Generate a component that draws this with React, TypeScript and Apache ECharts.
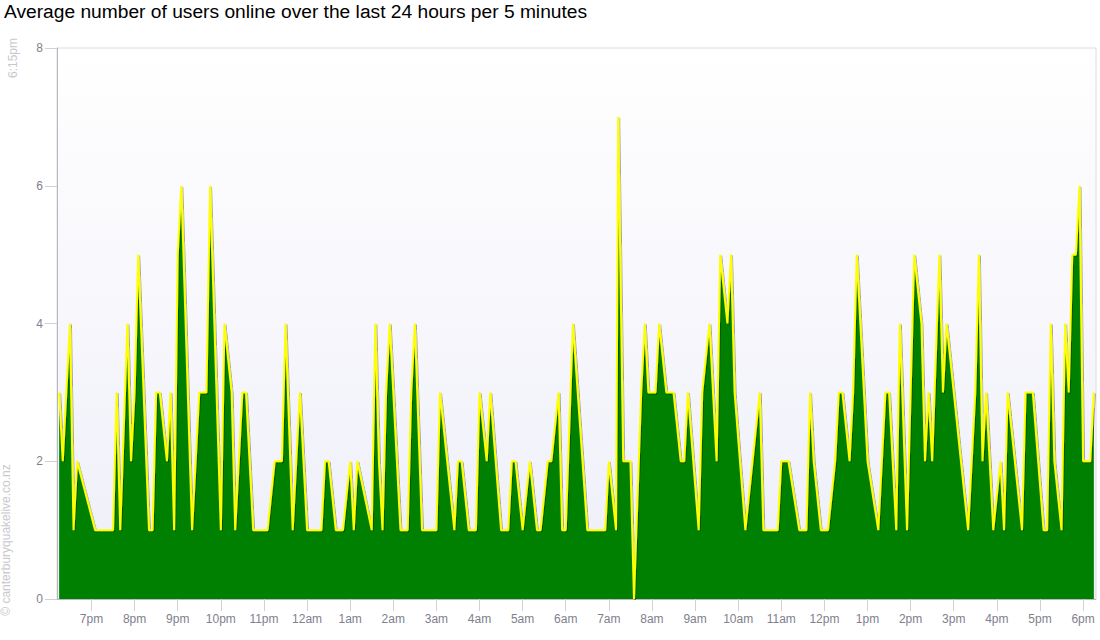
import React, { useEffect, useRef } from "react";
import * as echarts from "echarts";

// Minutes after 6:00pm (day one) of each sample
const times: number[] = [
  15, 20, 30, 35, 40, 65, 90, 95, 100, 110, 115, 120, 125, 140, 145, 150, 155, 165, 170, 175,
  180, 185, 200, 205, 210, 220, 225, 240, 245, 255, 260, 270, 275, 285, 305, 315, 325, 330, 340, 350,
  360, 380, 385, 390, 400, 410, 420, 425, 430, 450, 455, 460, 465, 470, 475, 490, 500, 505, 510, 520,
  540, 545, 565, 570, 575, 585, 595, 600, 610, 615, 630, 640, 645, 650, 660, 670, 680, 685, 695, 700,
  710, 715, 720, 730, 750, 775, 780, 790, 793, 800, 810, 815, 825, 830, 835, 845, 850, 860, 870, 880,
  885, 890, 905, 910, 920, 930, 935, 945, 950, 955, 970, 980, 990, 995, 1015, 1020, 1030, 1045, 1055, 1060,
  1065, 1075, 1085, 1095, 1100, 1105, 1115, 1120, 1125, 1135, 1140, 1155, 1160, 1165, 1170, 1180, 1185, 1195, 1200, 1205,
  1215, 1220, 1225, 1230, 1240, 1245, 1250, 1280, 1290, 1295, 1300, 1305, 1315, 1325, 1330, 1335, 1355, 1360, 1370, 1385,
  1390, 1395, 1400, 1410, 1415, 1420, 1425, 1430, 1435, 1440, 1450, 1455,
];

// Average users online at each sample
const users: number[] = [
  3, 2, 4, 1, 2, 1, 1, 3, 1, 4, 2, 3, 5, 1, 1, 3, 3, 2, 3, 1,
  5, 6, 1, 2, 3, 3, 6, 1, 4, 3, 1, 3, 3, 1, 1, 2, 2, 4, 1, 3,
  1, 1, 2, 2, 1, 1, 2, 1, 2, 1, 4, 2, 1, 3, 4, 1, 1, 3, 4, 1,
  1, 3, 1, 2, 2, 1, 1, 3, 2, 3, 1, 1, 2, 2, 1, 2, 1, 1, 2, 2,
  3, 1, 1, 4, 1, 1, 2, 1, 7, 2, 2, 0, 3, 4, 3, 3, 4, 3, 3, 2,
  2, 3, 1, 3, 4, 2, 5, 4, 5, 3, 1, 2, 3, 1, 1, 2, 2, 1, 1, 3,
  2, 1, 1, 2, 3, 3, 2, 3, 5, 3, 2, 1, 2, 3, 3, 1, 4, 1, 3, 5,
  4, 2, 3, 2, 5, 3, 4, 1, 3, 5, 2, 3, 1, 2, 1, 3, 1, 3, 3, 1,
  1, 4, 2, 1, 4, 3, 5, 5, 6, 2, 2, 3,
];

// Hourly tick positions (minutes after 6:00pm) and their labels
const tickMinutes: number[] = [
  60, 120, 180, 240, 300, 360, 420, 480, 540, 600, 660, 720,
  780, 840, 900, 960, 1020, 1080, 1140, 1200, 1260, 1320, 1380, 1440,
];
const tickLabels: string[] = [
  "7pm", "8pm", "9pm", "10pm", "11pm", "12am", "1am", "2am", "3am", "4am", "5am", "6am",
  "7am", "8am", "9am", "10am", "11am", "12pm", "1pm", "2pm", "3pm", "4pm", "5pm", "6pm",
];

const yTicks: number[] = [0, 2, 4, 6, 8];

const TITLE = "Average number of users online over the last 24 hours per 5 minutes";

export default function App() {
  const ref = useRef<HTMLDivElement>(null);

  useEffect(() => {
    if (!ref.current) return;
    const chart = echarts.init(ref.current, undefined, { renderer: "svg" });
    const data = times.map((t, i) => [t, users[i]]);
    const font = "'Liberation Sans', Arial, sans-serif";

    chart.setOption({
      animation: false,
      backgroundColor: "#ffffff",
      textStyle: { fontFamily: font },
      grid: {
        left: 57,
        right: 4,
        top: 48,
        bottom: 41,
        show: true,
        borderColor: "#dcdce4",
        borderWidth: 1,
        backgroundColor: {
          type: "linear",
          x: 0,
          y: 0,
          x2: 0,
          y2: 1,
          colorStops: [
            { offset: 0, color: "#ffffff" },
            { offset: 1, color: "#eeeef9" },
          ],
        },
      },
      xAxis: {
        type: "value",
        min: 12,
        max: 1458,
        axisLine: { show: true, lineStyle: { color: "#b8b8c0" } },
        axisTick: {
          show: true,
          length: 12,
          customValues: tickMinutes,
          lineStyle: { color: "#d0d0d8" },
        },
        axisLabel: {
          customValues: tickMinutes,
          color: "#80808e",
          fontSize: 12,
          fontFamily: font,
          margin: 14,
          formatter: (v: number) => {
            const idx = tickMinutes.indexOf(v);
            return idx >= 0 ? tickLabels[idx] : "";
          },
        },
        splitLine: { show: false },
      },
      yAxis: {
        type: "value",
        min: 0,
        max: 8,
        interval: 2,
        axisLine: { show: true, lineStyle: { color: "#b8b8c0" } },
        axisTick: { show: true, length: 12, lineStyle: { color: "#d0d0d8" } },
        axisLabel: {
          color: "#80808e",
          fontSize: 12,
          fontFamily: font,
          margin: 14,
          formatter: (v: number) => (yTicks.includes(v) ? String(v) : ""),
        },
        splitLine: { show: false },
      },
      graphic: [
        {
          type: "text",
          left: 4,
          top: 2,
          style: {
            text: TITLE,
            fill: "#000000",
            font: `19.2px ${font}`,
          },
        },
        {
          type: "text",
          x: 13,
          y: 58,
          rotation: Math.PI / 2,
          style: {
            text: "6:15pm",
            fill: "#c8c8cc",
            font: `12px ${font}`,
            align: "center",
            verticalAlign: "middle",
          },
        },
        {
          type: "text",
          x: 6,
          y: 540,
          rotation: Math.PI / 2,
          style: {
            text: "© canterburyquakelive.co.nz",
            fill: "#c8c8cc",
            font: `12px ${font}`,
            align: "center",
            verticalAlign: "middle",
          },
        },
      ],
      series: [
        {
          type: "line",
          data,
          symbol: "none",
          lineStyle: {
            color: "#ffff00",
            width: 2,
            shadowColor: "rgba(0,0,0,0.35)",
            shadowBlur: 1,
            shadowOffsetX: 1,
            shadowOffsetY: 1,
          },
          areaStyle: { color: "#008000", opacity: 1 },
          z: 3,
        },
      ],
    });

    return () => chart.dispose();
  }, []);

  return (
    <div
      ref={ref}
      style={{ position: "fixed", left: 0, top: 0, width: 1100, height: 640 }}
    />
  );
}
